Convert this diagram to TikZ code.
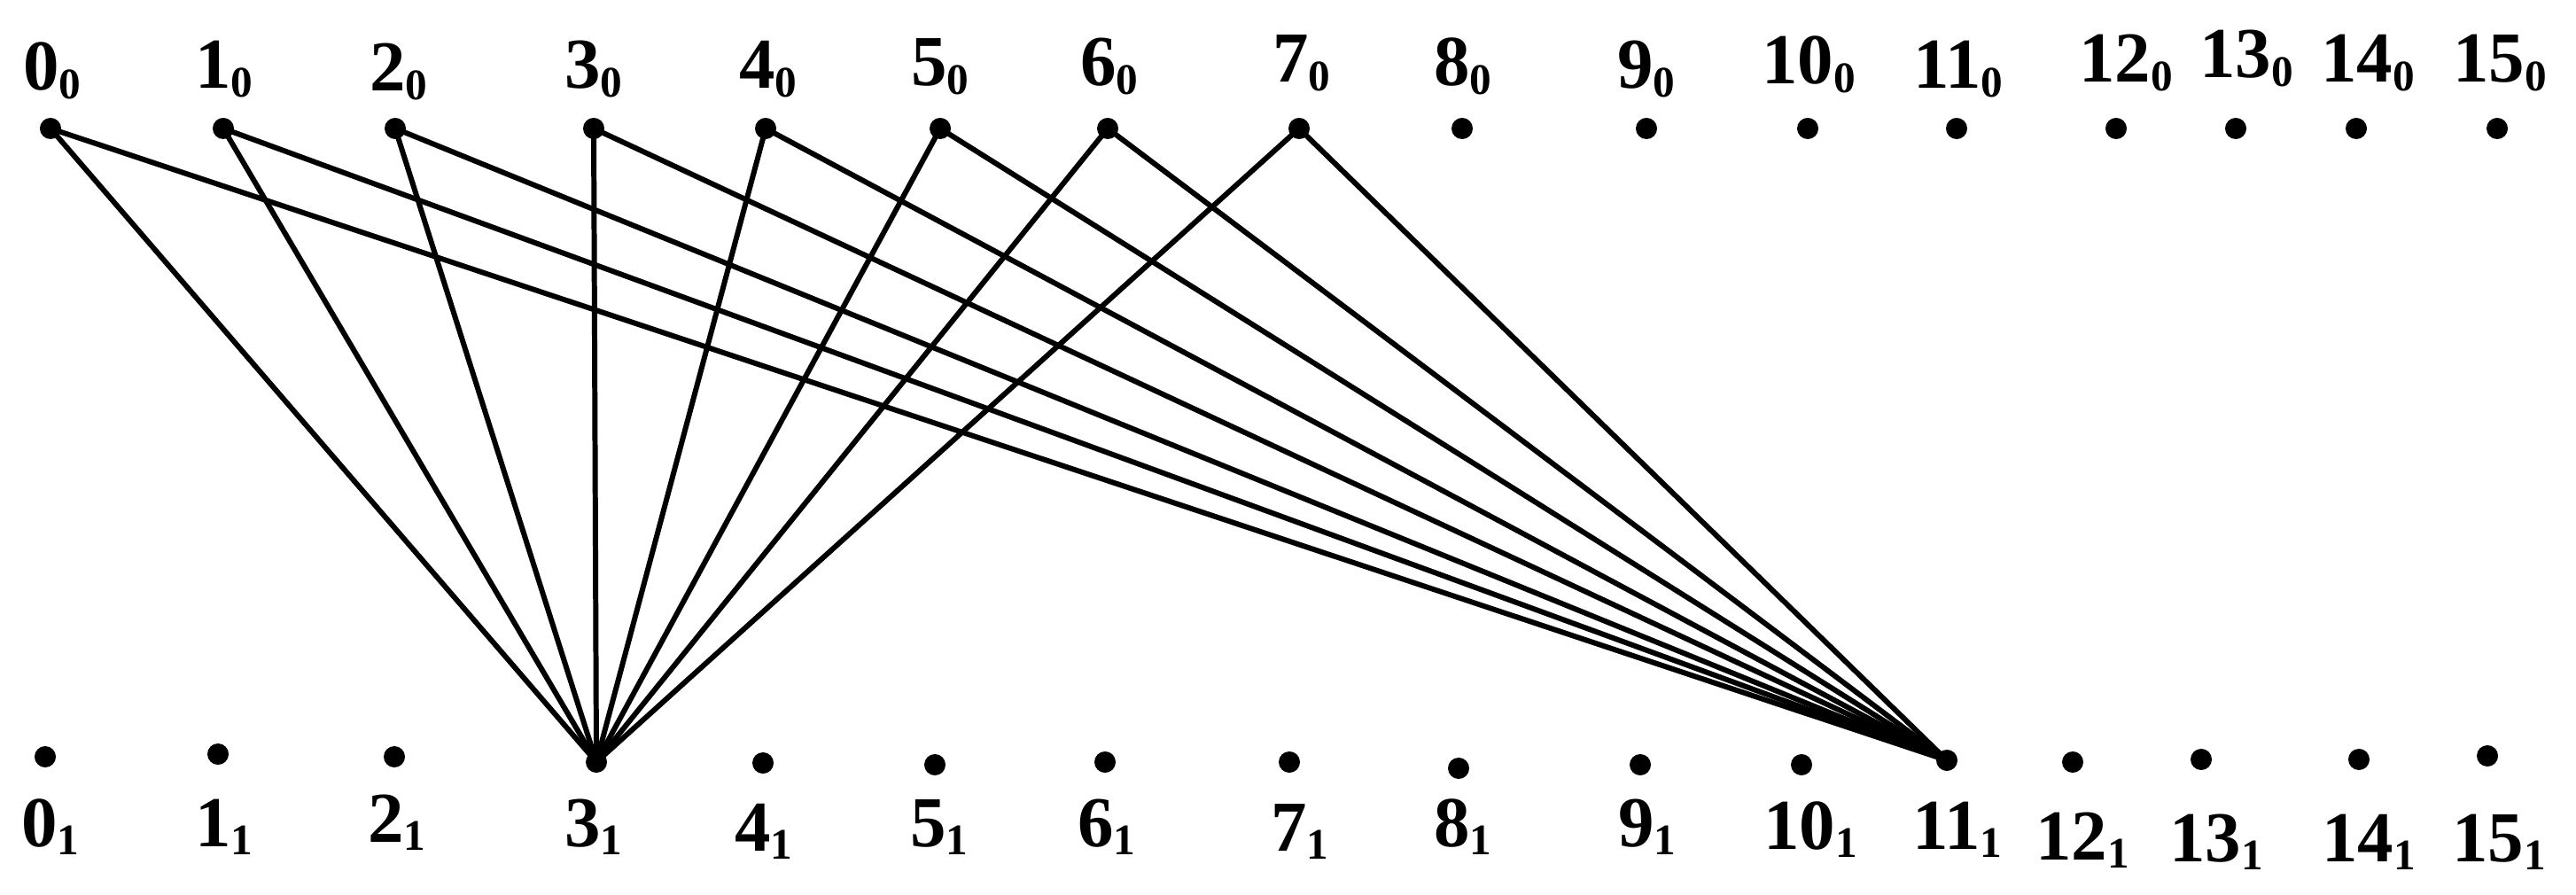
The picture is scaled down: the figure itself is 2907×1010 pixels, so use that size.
\documentclass[tikz,border=0pt]{standalone}
\usepackage{fontspec}
\setmainfont{Liberation Serif}
\newcommand{\lbl}[2]{{\fontsize{23}{23}\selectfont\bfseries #1}\raisebox{-2.8pt}{\fontsize{14}{14}\selectfont\bfseries #2}}
\begin{document}
\begin{tikzpicture}[x=0.01cm,y=-0.01cm,
  dot/.style={circle,fill=black,inner sep=0pt,minimum size=0.24cm},
  lab/.style={anchor=base,inner sep=0pt},
  edge/.style={line width=1.7pt,black}]
\useasboundingbox (0,0) rectangle (2907,1010);
% top dots
\foreach \i/\x in {0/57,1/252,2/446,3/670,4/864,5/1061,6/1250,7/1466,8/1650,9/1858,10/2040,11/2208,12/2388,13/2523,14/2659,15/2818}
  \node[dot] (t\i) at (\x,145) {};
% bottom dots
\foreach \i/\x/\y in {0/51/854,1/246/851,2/445/854,3/673/860,4/861/861,5/1055/863,6/1247/860,7/1455/860,8/1646/867,9/1851/863,10/2033/863,11/2197/858,12/2339/860,13/2484/857,14/2662/857,15/2807/853}
  \node[dot] (b\i) at (\x,\y) {};
% top labels
\foreach \i/\x/\y in {0/59/102,1/253/100,2/450/103,3/670/100,4/867/100,5/1061/97,6/1252/97,7/1469/93,8/1651/97,9/1858/100,10/2041/95,11/2210/100,12/2399/93,13/2535/88,14/2672/93,15/2821/93}
  \node[lab] (lt\i) at (\x,\y) {\lbl{\i}{0}};
% bottom labels
\foreach \i/\x/\y in {0/57/955,1/253/955,2/448/950,3/670/955,4/862/960,5/1060/955,6/1249/955,7/1467/960,8/1651/955,9/1859/955,10/2043/958,11/2209/958,12/2350/970,13/2501/972,14/2673/972,15/2820/972}
  \node[lab] (lb\i) at (\x,\y) {\lbl{\i}{1}};
% edges
\foreach \i in {0,...,7} {
  \draw[edge] (t\i.center) -- (b3.center);
  \draw[edge] (t\i.center) -- (b11.center);
}
\end{tikzpicture}
\end{document}
